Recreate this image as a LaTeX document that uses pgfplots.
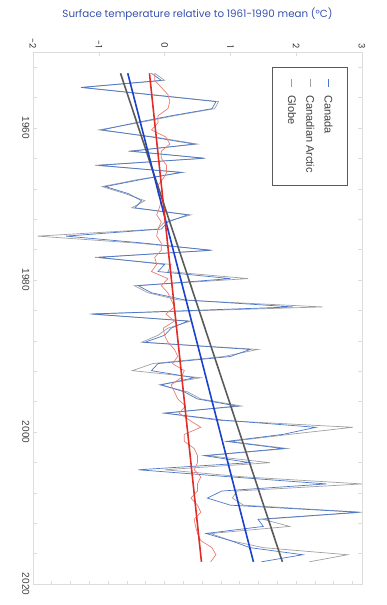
\documentclass[border=0pt]{standalone}
\usepackage{pgfplots}
\pgfplotsset{compat=1.18}
\usepackage{pgfplotstable}
\usepackage{fontspec}
\setmainfont{Liberation Sans}
\newfontfamily\poppins{Poppins}
\definecolor{titleblue}{RGB}{55,80,175}
\definecolor{canblue}{RGB}{74,120,205}
\definecolor{arcgray}{RGB}{160,160,160}
\definecolor{glored}{RGB}{235,125,115}
\definecolor{cantrend}{RGB}{25,65,205}
\definecolor{arctrend}{RGB}{90,90,90}
\definecolor{glotrend}{RGB}{225,45,40}
\definecolor{framegray}{RGB}{220,220,220}

\pgfplotstableread{
year can arc glo
1948 -0.20 -0.15 -0.15
1949 -0.05 0.00 -0.15
1950 -1.27 -1.25 -0.05
1951 -0.25 -0.20 0.05
1952 0.78 0.82 0.08
1953 0.72 0.76 0.05
1954 0.10 0.15 -0.10
1955 -0.45 -0.40 -0.10
1956 -0.95 -1.00 -0.20
1957 -0.20 -0.15 0.02
1958 0.45 0.50 0.08
1959 -0.50 -0.55 -0.05
1960 0.60 0.62 -0.05
1961 -1.00 -1.06 0.03
1962 0.25 0.28 0.03
1963 -0.35 -0.40 -0.03
1964 -0.90 -0.95 -0.12
1965 -0.55 -0.60 -0.10
1966 -0.35 -0.30 -0.05
1967 -0.45 -0.50 -0.08
1968 0.35 0.40 -0.12
1969 0.05 0.00 -0.05
1970 -0.05 -0.10 -0.10
1971 -1.50 -1.93 -0.12
1972 -0.30 -0.40 -0.05
1973 0.70 0.73 -0.05
1974 -1.00 -1.06 -0.15
1975 0.00 0.10 -0.12
1976 -0.10 0.05 -0.20
1977 1.00 1.27 0.05
1978 -0.40 -0.46 -0.05
1979 -0.20 -0.25 0.05
1980 0.30 0.20 0.10
1981 1.95 2.40 0.15
1982 -1.10 -1.14 0.02
1983 0.35 0.40 0.15
1984 0.10 0.05 -0.02
1985 0.00 -0.10 0.00
1986 -0.30 -0.35 0.05
1987 1.30 1.42 0.15
1988 1.00 0.90 0.20
1989 -0.10 -0.18 0.12
1990 -0.20 -0.49 0.30
1991 0.45 0.55 0.25
1992 -0.05 -0.08 0.10
1993 0.30 0.35 0.15
1994 0.50 0.55 0.20
1995 1.10 1.17 0.32
1996 0.00 0.00 0.22
1997 0.90 0.80 0.38
1998 2.30 2.86 0.55
1999 1.80 1.90 0.30
2000 0.94 1.00 0.30
2001 1.80 1.87 0.45
2002 0.60 0.65 0.50
2003 1.30 1.60 0.50
2004 -0.40 0.00 0.45
2005 1.00 1.20 0.55
2006 2.46 3.00 0.50
2007 0.87 1.10 0.50
2008 0.65 1.03 0.40
2009 1.00 1.20 0.50
2010 2.95 3.00 0.55
2011 1.42 1.50 0.45
2012 1.50 1.90 0.47
2013 0.63 0.70 0.50
2014 1.00 1.00 0.55
2015 1.30 1.50 0.72
2016 2.10 2.78 0.78
2017 1.47 2.20 0.70
}\data

\pgfplotstableread{
year can arc glo
1948 -0.56 -0.67 -0.23
2017 1.35 1.79 0.56
}\trend

\begin{document}
\begin{tikzpicture}
\useasboundingbox (-33pt,-21pt) rectangle (354pt,584pt);
\begin{axis}[
  scale only axis, width=329pt, height=532pt,
  xmin=-2, xmax=3, ymin=1950, ymax=2020, y dir=reverse,
  axis line style={framegray, line width=0.6pt},
  tick style={framegray, line width=0.6pt},
  tick align=inside,
  major tick length=4pt, minor tick length=3.5pt,
  xtick={-2,...,3}, xtick pos=right, xticklabel pos=right,
  ytick={1960,1980,2000,2020}, minor ytick={1952,1956,...,2016},
  ytick pos=both, yticklabel pos=left,
  xticklabel style={rotate=-90, anchor=east, font=\poppins\fontsize{9}{9}\selectfont, text=black!80},
  yticklabel style={rotate=-90, anchor=north, font=\fontsize{10}{10}\selectfont, text=black!75},
  /pgf/number format/assume math mode=true,
  /pgf/number format/1000 sep={},
  title={Surface temperature relative to 1961-1990 mean (°C)},
  title style={at={(axis description cs:0.5,1)}, anchor=center, yshift=32pt, font=\poppins\fontsize{10.3}{11}\selectfont, text=titleblue},
]
\addplot[arcgray, line width=0.7pt] table[x=arc, y expr={1952.8+(\thisrow{year}-1948)*0.9316}] {\data};
\addplot[canblue, line width=0.7pt] table[x=can, y expr={1952.8+(\thisrow{year}-1948)*0.9316}] {\data};
\addplot[glored, line width=0.7pt] table[x=glo, y expr={1952.8+(\thisrow{year}-1948)*0.9316}] {\data};
\addplot[arctrend, line width=1.6pt] table[x=arc, y expr={1952.8+(\thisrow{year}-1948)*0.9316}] {\trend};
\addplot[cantrend, line width=1.6pt] table[x=can, y expr={1952.8+(\thisrow{year}-1948)*0.9316}] {\trend};
\addplot[glotrend, line width=1.6pt] table[x=glo, y expr={1952.8+(\thisrow{year}-1948)*0.9316}] {\trend};
\coordinate (legpos) at (axis description cs:0.957,0.972);
\end{axis}
\begin{axis}[
  scale only axis, width=329pt, height=532pt,
  xmin=-2, xmax=3, ymin=1950, ymax=2020,
  axis line style={draw=none},
  xtick={-2,-1.714286,-1.428571,-1.142857,-0.857143,-0.571429,-0.285714,0,0.285714,0.571429,0.857143,1.142857,1.428571,1.714286,2,2.285714,2.571429,2.857143},
  xticklabels={}, xtick pos=left, ytick=\empty,
  tick style={framegray, line width=0.6pt}, tick align=inside, major tick length=3pt,
]
\end{axis}
\node[rotate=-90, anchor=north west, draw=arctrend, line width=0.8pt, fill=white,
      inner xsep=12pt, inner ysep=10pt, font=\fontsize{11}{12.5}\selectfont, text=black!75]
  at (legpos)
  {\def\arraystretch{1.46}\begin{tabular}{@{}l@{\hspace{8pt}}l@{}}
   {\color{canblue}\rule[0.3em]{8pt}{1pt}} & Canada\\
   {\color{arcgray}\rule[0.3em]{8pt}{1pt}} & Canadian Arctic\\
   {\color{glored}\rule[0.3em]{8pt}{1pt}} & Globe
   \end{tabular}};
\end{tikzpicture}
\end{document}
